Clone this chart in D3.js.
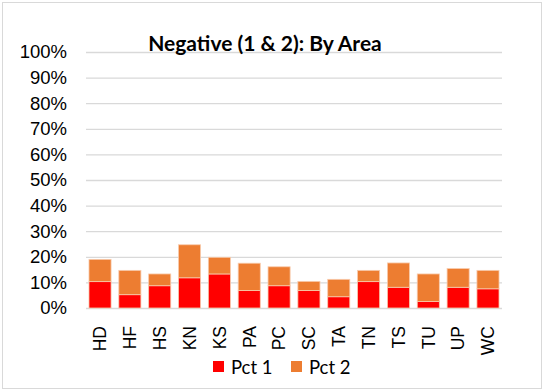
<!DOCTYPE html>
<html>
<head>
<meta charset="utf-8">
<script src="https://cdn.jsdelivr.net/npm/d3@7"></script>
<style>
  html, body { margin: 0; padding: 0; background: #fff; }
  svg { display: block; font-family: Lato, "Open Sans", sans-serif; }
</style>
</head>
<body>
<svg id="chart" width="545" height="392"></svg>
<script>
// Share of negative responses by area, split into rating 1 and rating 2
const areas = ["HD", "HF", "HS", "KN", "KS", "PA", "PC", "SC", "TA", "TN", "TS", "TU", "UP", "WC"];
const pct1 = [10.3, 5.2, 8.7, 11.8, 13.3, 6.8, 8.7, 6.8, 4.4, 10.3, 8.1, 2.5, 8.1, 7.5];
const pct2 = [8.7, 9.5, 4.6, 12.9, 6.5, 10.7, 7.4, 3.6, 6.8, 4.4, 9.5, 10.8, 7.3, 7.2];
const yTicks = [0, 10, 20, 30, 40, 50, 60, 70, 80, 90, 100];
const seriesNames = ["Pct 1", "Pct 2"];
const colors = ["#ff0000", "#ed7d31"];

const svg = d3.select("#chart");
const margin = { left: 86, right: 43, top: 52, bottom: 84 };
const W = 545, H = 392;

// outer frame
svg.append("rect")
  .attr("x", 2.5).attr("y", 2.5)
  .attr("width", W - 6).attr("height", H - 6)
  .attr("fill", "#fff").attr("stroke", "#d9d9d9");

const x = d3.scaleBand().domain(areas)
  .range([margin.left, W - margin.right])
  .paddingInner(0.26).paddingOuter(0.1);
const y = d3.scaleLinear().domain([0, 100]).range([H - margin.bottom, margin.top]);

// gridlines and y labels
const yAxis = d3.axisLeft(y).tickValues(yTicks)
  .tickSize(-(W - margin.left - margin.right))
  .tickFormat(d => d + "%");
const gy = svg.append("g").attr("transform", `translate(${margin.left},0)`).call(yAxis);
gy.select(".domain").remove();
gy.selectAll(".tick line").attr("stroke", "#d9d9d9").attr("stroke-width", 1.3);
gy.selectAll(".tick text").attr("x", -19).attr("font-size", 18.5).attr("fill", "#000");

// stacked bars
const rows = areas.map((a, i) => ({ area: a, "Pct 1": pct1[i], "Pct 2": pct2[i] }));
const stack = d3.stack().keys(seriesNames)(rows);
svg.append("g").selectAll("g").data(stack).join("g")
  .attr("fill", (d, i) => colors[i])
  .selectAll("rect").data(d => d).join("rect")
  .attr("x", d => x(d.data.area))
  .attr("width", x.bandwidth())
  .attr("y", d => y(d[1]))
  .attr("height", d => y(d[0]) - y(d[1]))
  .attr("stroke", "#f8cbad").attr("stroke-width", 0.8);

// category labels
const gx = svg.append("g").attr("transform", `translate(0,${H - margin.bottom})`)
  .call(d3.axisBottom(x).tickSize(0));
gx.select(".domain").remove();
gx.selectAll(".tick text")
  .attr("font-size", 17.5).attr("fill", "#000")
  .attr("transform", "rotate(-90)")
  .attr("text-anchor", "end")
  .attr("x", -18).attr("y", 0).attr("dy", "0.36em");

// title
svg.append("text")
  .attr("x", 265).attr("y", 51)
  .attr("text-anchor", "middle")
  .attr("font-size", 21).attr("font-weight", "bold")
  .text("Negative (1 & 2): By Area");

// legend
const legend = svg.append("g").attr("transform", "translate(213,361)");
seriesNames.forEach((name, i) => {
  const g = legend.append("g").attr("transform", `translate(${i * 78},0)`);
  g.append("rect").attr("x", 0).attr("y", 0).attr("width", 11).attr("height", 11).attr("fill", colors[i]);
  g.append("text").attr("x", 18).attr("y", 13).attr("font-size", 18.5).text(name);
});
</script>
</body>
</html>
